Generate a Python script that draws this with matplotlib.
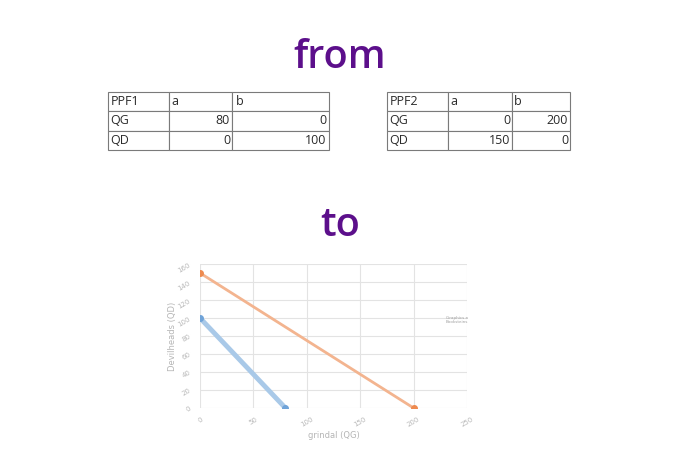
import matplotlib.pyplot as plt

# table data
cols = ["a", "b"]
ppf1_qg = [80, 0]
ppf1_qd = [0, 100]
ppf2_qg = [0, 200]
ppf2_qd = [150, 0]

x_ticks = [0, 50, 100, 150, 200, 250]
y_ticks = [0, 20, 40, 60, 80, 100, 120, 140, 160]

W, H = 680, 453
fig = plt.figure(figsize=(6.8, 4.53), dpi=100)
fig.patch.set_facecolor("white")
purple = "#5c0f8b"


def px_axes(x0, y0, x1, y1):
    return fig.add_axes([x0 / W, 1 - y1 / H, (x1 - x0) / W, (y1 - y0) / H])


fig.text(340 / W, 1 - 58 / H, "from", ha="center", va="center", fontsize=28.5,
         fontweight="semibold", color=purple, family="Open Sans")
fig.text(340 / W, 1 - 226 / H, "to", ha="center", va="center", fontsize=28.5,
         fontweight="semibold", color=purple, family="Open Sans")


def draw_table(name, qg, qd, x0, x1, c1, c2):
    ax = px_axes(x0, 92, x1, 150)
    ax.axis("off")
    rows = [[name, cols[0], cols[1]],
            ["QG", str(qg[0]), str(qg[1])],
            ["QD", str(qd[0]), str(qd[1])]]
    widths = [(c1 - x0) / (x1 - x0), (c2 - c1) / (x1 - x0), (x1 - c2) / (x1 - x0)]
    tb = ax.table(cellText=rows, colWidths=widths, loc="center", bbox=[0, 0, 1, 1])
    tb.auto_set_font_size(False)
    for (r, c), cell in tb.get_celld().items():
        cell.set_edgecolor("#7a7a7a")
        cell.set_linewidth(0.8)
        cell.get_text().set_fontsize(9)
        cell.get_text().set_color("#2a2a2a")
        cell.get_text().set_family("Open Sans")
        if r > 0 and c > 0:
            cell.get_text().set_ha("right")
            cell.PAD = 0.03
        else:
            cell.get_text().set_ha("left")
            cell.PAD = 0.04


draw_table("PPF1", ppf1_qg, ppf1_qd, 108, 329, 169, 232)
draw_table("PPF2", ppf2_qg, ppf2_qd, 387, 570, 448, 512)

# chart
ax = px_axes(200, 264, 467, 408)
ax.set_xlim(0, 250)
ax.set_ylim(0, 160)
ax.set_xticks(x_ticks)
ax.set_yticks(y_ticks)
ax.grid(True, color="#e3e3e3", lw=0.8)
ax.set_axisbelow(True)
for s in ax.spines.values():
    s.set_visible(False)
ax.tick_params(length=0, labelsize=5, labelcolor="#b8b8b8", pad=6)
for lb in ax.get_xticklabels():
    lb.set_rotation(30)
for lb in ax.get_yticklabels():
    lb.set_rotation(30)

ax.plot(ppf1_qg, ppf1_qd, color="#a9c9e8", lw=3.5, solid_capstyle="round",
        marker="o", ms=4, mfc="#6fa3d8", mec="#6fa3d8")
ax.plot(ppf2_qg, ppf2_qd, color="#f3b48f", lw=2, solid_capstyle="round",
        marker="o", ms=4, mfc="#ee8a4f", mec="#ee8a4f")

ax.set_xlabel("grindal (QG)", fontsize=6, color="#b5b5b5", labelpad=2)
ax.set_ylabel("Devilheads (QD)", fontsize=6, color="#b5b5b5", labelpad=0)
fig.text(457 / W, 1 - 320 / H, "Graphics a\nBooksteins", fontsize=3, color="#a0a0a0",
         ha="center", va="center", linespacing=1.0)

fig.savefig("out.png", dpi=100, facecolor="white")
